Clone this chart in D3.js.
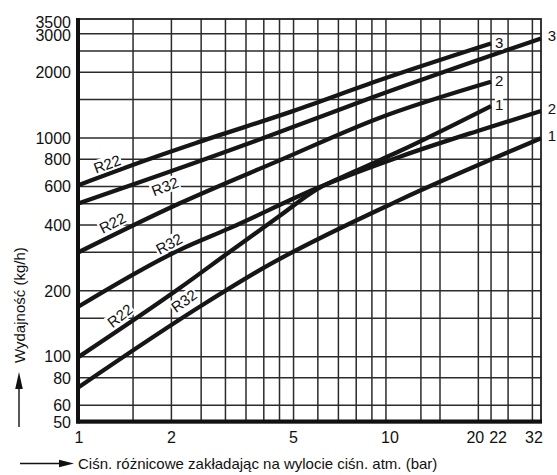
<!DOCTYPE html>
<html>
<head>
<meta charset="utf-8">
<script src="https://cdn.jsdelivr.net/npm/d3@7"></script>
<style>
  body { margin: 0; background: #fff; }
  svg { display: block; font-family: "Liberation Sans", Arial, Helvetica, sans-serif; }
</style>
</head>
<body>
<svg id="chart" width="557" height="475"></svg>
<script>
// grid + tick values
const xGrid = [1.5, 2, 2.5, 3, 3.5, 4, 4.5, 5, 6, 7, 8, 9, 10, 13, 15, 20, 22, 25, 30]
const yGrid = [60, 80, 100, 150, 200, 300, 400, 500, 600, 800, 1000, 1500, 2000, 2500, 3000]
const xTicks = [1, 2, 5, 10, 20, 22, 32]
const yTicks = [50, 60, 80, 100, 200, 400, 600, 800, 1000, 2000, 3000, 3500]

// capacity curves, [pressure difference (bar), capacity (kg/h)]
const r22Size3 = [[1, 610], [1.66, 793], [2.48, 962], [5, 1330], [9.56, 1841], [22, 2706]]
const r32Size3 = [[1, 503], [3.1, 878], [5, 1125], [8.87, 1518], [32, 2852]]
const r22Size2 = [[1, 301], [2.13, 503], [4.5, 790], [9.56, 1238], [22, 1807]]
const r32Size2 = [[1, 170], [2.13, 308], [3.1, 387], [5.95, 589], [11.1, 821], [19.9, 1077], [32, 1328]]
const r22Size1 = [[1, 100], [2.13, 206], [3.1, 302], [4.5, 440], [5.95, 582], [8, 708], [11.1, 872], [22, 1400]]
const r32Size1 = [[1, 72.7], [2.57, 175], [3.98, 254], [11.1, 521], [26, 881], [32, 997]]

const curveData = [r22Size3, r32Size3, r22Size2, r32Size2, r22Size1, r32Size1]
const curveRefrigerant = ['R22', 'R32', 'R22', 'R32', 'R22', 'R32']
const curveSize = ['3', '3', '2', '2', '1', '1']
// where the refrigerant name sits, [bar, kg/h]
const refLabelAt = [[1.234, 760], [1.906, 600], [1.286, 409], [1.965, 328], [1.36, 154], [2.198, 180]]
const refLabelAngle = [-20, -21, -27, -28, -38, -36]

const xLabel = 'Ciśn. różnicowe zakładając na wylocie ciśn. atm. (bar)'
const yLabel = 'Wydajność (kg/h)'

const svg = d3.select('#chart')

const x = d3.scaleLog().domain([1, 32]).range([79, 541])
const y = d3.scaleLog().domain([50, 3500]).range([422.5, 19])

const gridColor = '#2b2b2b'

// vertical grid
svg.append('g')
  .selectAll('line')
  .data(xGrid)
  .join('line')
  .attr('x1', d => x(d)).attr('x2', d => x(d))
  .attr('y1', y(3500)).attr('y2', y(50))
  .attr('stroke', gridColor)
  .attr('stroke-width', 1.5)

// horizontal grid
svg.append('g')
  .selectAll('line')
  .data(yGrid)
  .join('line')
  .attr('x1', x(1)).attr('x2', x(32))
  .attr('y1', d => y(d)).attr('y2', d => y(d))
  .attr('stroke', gridColor)
  .attr('stroke-width', 1.5)

// frame: thin top/right, thick left/bottom
svg.append('rect')
  .attr('x', x(1)).attr('y', y(3500))
  .attr('width', x(32) - x(1)).attr('height', y(50) - y(3500))
  .attr('fill', 'none')
  .attr('stroke', '#222')
  .attr('stroke-width', 1.8)

// curves
const line = d3.line()
  .x(d => x(d[0]))
  .y(d => y(d[1]))
  .curve(d3.curveMonotoneX)

svg.append('g')
  .selectAll('path')
  .data(curveData)
  .join('path')
  .attr('d', line)
  .attr('fill', 'none')
  .attr('stroke', '#161616')
  .attr('stroke-width', 4.3)

svg.append('line')
  .attr('x1', x(1) - 1).attr('x2', x(1) - 1)
  .attr('y1', y(3500) - 1).attr('y2', y(50) + 1)
  .attr('stroke', '#111').attr('stroke-width', 4)
svg.append('line')
  .attr('x1', x(1) - 3).attr('x2', x(32) + 1)
  .attr('y1', y(50) - 1).attr('y2', y(50) - 1)
  .attr('stroke', '#111').attr('stroke-width', 4)

// refrigerant labels on white boxes
curveData.forEach((pts, i) => {
  const at = refLabelAt[i]
  const g = svg.append('g')
    .attr('transform', `translate(${x(at[0])},${y(at[1])}) rotate(${refLabelAngle[i]})`)
  const t = g.append('text')
    .attr('text-anchor', 'middle')
    .attr('dy', '0.36em')
    .attr('fill', '#111')
    .style('font-size', '15px')
    .text(curveRefrigerant[i])
  const bb = t.node().getBBox()
  g.insert('rect', 'text')
    .attr('x', bb.x - 1).attr('y', bb.y + 1)
    .attr('width', bb.width + 2).attr('height', bb.height - 2)
    .attr('fill', '#fff')
})

// size labels at curve ends
curveData.forEach((pts, i) => {
  const last = pts[pts.length - 1]
  const outside = last[0] >= 32
  const px = x(last[0]) + (outside ? 11 : 8)
  const py = y(last[1]) + (outside ? -2.5 : -1)
  const g = svg.append('g').attr('transform', `translate(${px},${py})`)
  const t = g.append('text')
    .attr('text-anchor', 'middle')
    .attr('dy', '0.36em')
    .attr('fill', '#111')
    .style('font-size', '15px')
    .text(curveSize[i])
  if (!outside) {
    const bb = t.node().getBBox()
    g.insert('rect', 'text')
      .attr('x', bb.x).attr('y', bb.y + 1)
      .attr('width', bb.width).attr('height', bb.height - 2)
      .attr('fill', '#fff')
  }
})

// tick labels
const xNudge = { 10: 4, 20: -3, 22: 7, 32: -7 }
svg.append('g')
  .selectAll('text')
  .data(xTicks)
  .join('text')
  .attr('x', d => x(d) + (xNudge[d] || 0))
  .attr('y', 443)
  .attr('text-anchor', 'middle')
  .attr('fill', '#111')
  .style('font-size', '16px')
  .text(d => d)

const yNudge = { 3500: 3, 3000: 1.5 }
svg.append('g')
  .selectAll('text')
  .data(yTicks)
  .join('text')
  .attr('x', 71)
  .attr('y', d => y(d) + (yNudge[d] || 0))
  .attr('dy', '0.36em')
  .attr('text-anchor', 'end')
  .attr('fill', '#111')
  .style('font-size', '16px')
  .text(d => d)

// axis titles with arrows
svg.append('text')
  .attr('transform', 'translate(24.5,363) rotate(-90)')
  .attr('fill', '#111')
  .style('font-size', '15px')
  .text(yLabel)

svg.append('line')
  .attr('x1', 19).attr('x2', 19)
  .attr('y1', 427).attr('y2', 386)
  .attr('stroke', '#111').attr('stroke-width', 1.4)
svg.append('path')
  .attr('d', 'M19,372 L15.2,389 L22.8,389 Z')
  .attr('fill', '#111')

svg.append('line')
  .attr('x1', 20).attr('x2', 61)
  .attr('y1', 463.5).attr('y2', 463.5)
  .attr('stroke', '#111').attr('stroke-width', 1.4)
svg.append('path')
  .attr('d', 'M74,463.5 L59,459.7 L59,467.3 Z')
  .attr('fill', '#111')

svg.append('text')
  .attr('x', 78)
  .attr('y', 468.5)
  .attr('fill', '#111')
  .style('font-size', '15px')
  .text(xLabel)
</script>
</body>
</html>
